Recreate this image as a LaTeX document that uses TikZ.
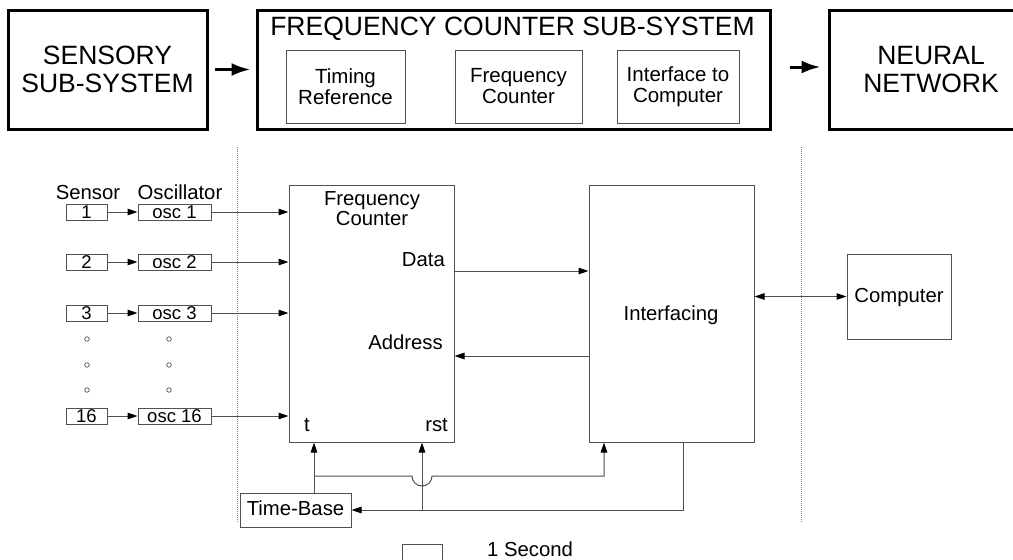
\documentclass[tikz,border=0pt]{standalone}
\usepackage{fontspec}
\setmainfont{Liberation Sans}
\usetikzlibrary{arrows.meta}
\definecolor{ln}{HTML}{505050}
\begin{document}
\begin{tikzpicture}[x=1pt,y=-1pt,
  bigbox/.style={draw=black,line width=3pt,inner sep=0pt,align=center,
     font=\fontsize{26.5}{28.5}\selectfont},
  subbox/.style={draw=ln,line width=1pt,inner sep=0pt,align=center,
     font=\fontsize{20.5}{21}\selectfont},
  blk/.style={draw=ln,line width=1pt,inner sep=0pt,align=center,
     font=\fontsize{20.3}{20}\selectfont},
  smallbox/.style={draw=ln,line width=1pt,inner sep=0pt,minimum height=16pt,
     font=\fontsize{18.5}{18}\selectfont},
  lbl/.style={inner sep=0pt,anchor=base,font=\fontsize{20.3}{20}\selectfont},
  bigarr/.style={line width=3pt,-{Latex[length=19pt,width=13pt]}},
  tip/.style={Triangle[length=10pt,width=6.5pt,fill=black,color=black]},
  arr/.style={draw=ln,line width=1pt,-{Triangle[length=10pt,width=6.5pt,color=black]}},
  darr/.style={draw=ln,line width=1pt,{Triangle[length=10pt,width=6.5pt,color=black]}-{Triangle[length=10pt,width=6.5pt,color=black]}},
  wire/.style={draw=ln,line width=1pt},
  sep/.style={draw=gray,line width=1pt,dash pattern=on 1pt off 1pt},
  dot/.style={draw=ln,line width=0.7pt,circle,inner sep=0pt,minimum size=4.5pt}]
\useasboundingbox (0,0) rectangle (1013,560);
\fill[white] (0,0) rectangle (1013,560);

% ---------- top level ----------
\node[bigbox,minimum width=199pt,minimum height=119pt] (sens) at (107.5,69.5) {SENSORY\\SUB-SYSTEM};
\node[bigbox,minimum width=513pt,minimum height=119pt] (fcs) at (513.5,69.5) {};
\node[inner sep=0pt,font=\fontsize{26.5}{28.5}\selectfont] (fcst) at (512.5,29) {FREQUENCY COUNTER SUB-SYSTEM};
\node[bigbox,minimum width=204pt,minimum height=119pt] (nn) at (931,69.5) {NEURAL\\NETWORK};
\node[subbox,minimum width=119pt,minimum height=73pt] (tr) at (345.5,86.5) {Timing\\Reference};
\node[subbox,minimum width=127pt,minimum height=73pt] (fcb) at (518.5,86.5) {Frequency\\Counter};
\node[subbox,minimum width=122pt,minimum height=73pt] (itc) at (678,86.5) {Interface to\\Computer};
\draw[bigarr,shorten <=6pt,shorten >=5pt] (sens) -- (fcs);
\draw[bigarr,shorten <=18pt,shorten >=7pt] (fcs.east |- 0,67) -- (nn.west |- 0,67);

% ---------- separators ----------
\coordinate (s1t) at (237,147);
\coordinate (s1b) at (237,522);
\coordinate (s2t) at (801,147);
\coordinate (s2b) at (801,522);
\draw[sep] (s1t) -- (s1b);
\draw[sep] (s2t) -- (s2b);

% ---------- sensors and oscillators ----------
\node[lbl] (lsens) at (88,199) {Sensor};
\node[lbl] (losc) at (180,199) {Oscillator};

\node[blk,minimum width=165pt,minimum height=257pt] (fc) at (371.5,313.5) {};
\node[blk,minimum width=165pt,minimum height=257pt] (ifc) at (671.5,313.5) {};

\foreach \n/\y in {1/212,2/262,3/313,16/416}{
  \node[smallbox,minimum width=41pt] (s\n) at (86.5,\y) {\n};
  \node[smallbox,minimum width=73pt] (o\n) at (174.5,\y) {osc \n};
  \draw[arr] (s\n) -- (o\n);
  \draw[arr] (o\n) -- (o\n -| fc.west);
}
\foreach \y [count=\i] in {339,365,390}{
  \node[dot] (da\i) at (87,\y) {};
  \node[dot] (db\i) at (169,\y) {};
}

% ---------- frequency counter ----------
\node[inner sep=0pt,align=center,font=\fontsize{20.3}{20}\selectfont] (fct) at (372,209) {Frequency\\Counter};
\node[lbl,anchor=base east] (ldata) at (445,266) {Data};
\node[lbl,anchor=base east] (laddr) at (443,349) {Address};
\node[lbl] (lt) at (307,431) {t};
\node[lbl,anchor=base east] (lrst) at (448,431) {rst};

\node[lbl] (lifc) at (671,320) {Interfacing};
\node[blk,minimum width=104pt,minimum height=85pt] (comp) at (899,296.5) {};
\node[lbl] (lcomp) at (899,302) {Computer};

\coordinate (yd) at (0,271);
\coordinate (ya) at (0,356);
\draw[arr] (fc.east |- yd) -- (ifc.west |- yd);
\draw[arr] (ifc.west |- ya) -- (fc.east |- ya);
\draw[darr] (ifc.east |- comp.west) -- (comp.west);

% ---------- time base ----------
\node[blk,minimum width=111pt,minimum height=34pt] (tb) at (295.5,510) {};
\node[lbl] (ltb) at (295.5,515) {Time-Base};

\coordinate (tX) at (314,476);
\coordinate (hopL) at (412,476);
\coordinate (iA) at (604,476);
\coordinate (iX) at (683,510);
\coordinate (rX) at (422,510);

\draw[arr] (tb.north -| tX) -- (tX |- fc.south);
\draw[arr] (tX) -- (hopL) arc[start angle=180,end angle=0,radius=10] -- (iA) -- (iA |- ifc.south);
\draw[arr] (ifc.south -| iX) -- (iX) -- (tb.east);
\draw[arr] (rX) -- (rX |- fc.south);

% ---------- legend ----------
\node[draw=ln,line width=1pt,inner sep=0pt,minimum width=40pt,minimum height=32pt] (sec) at (422,560) {};
\node[lbl,anchor=base west] (lsec) at (487,556) {1 Second};
\end{tikzpicture}
\end{document}
